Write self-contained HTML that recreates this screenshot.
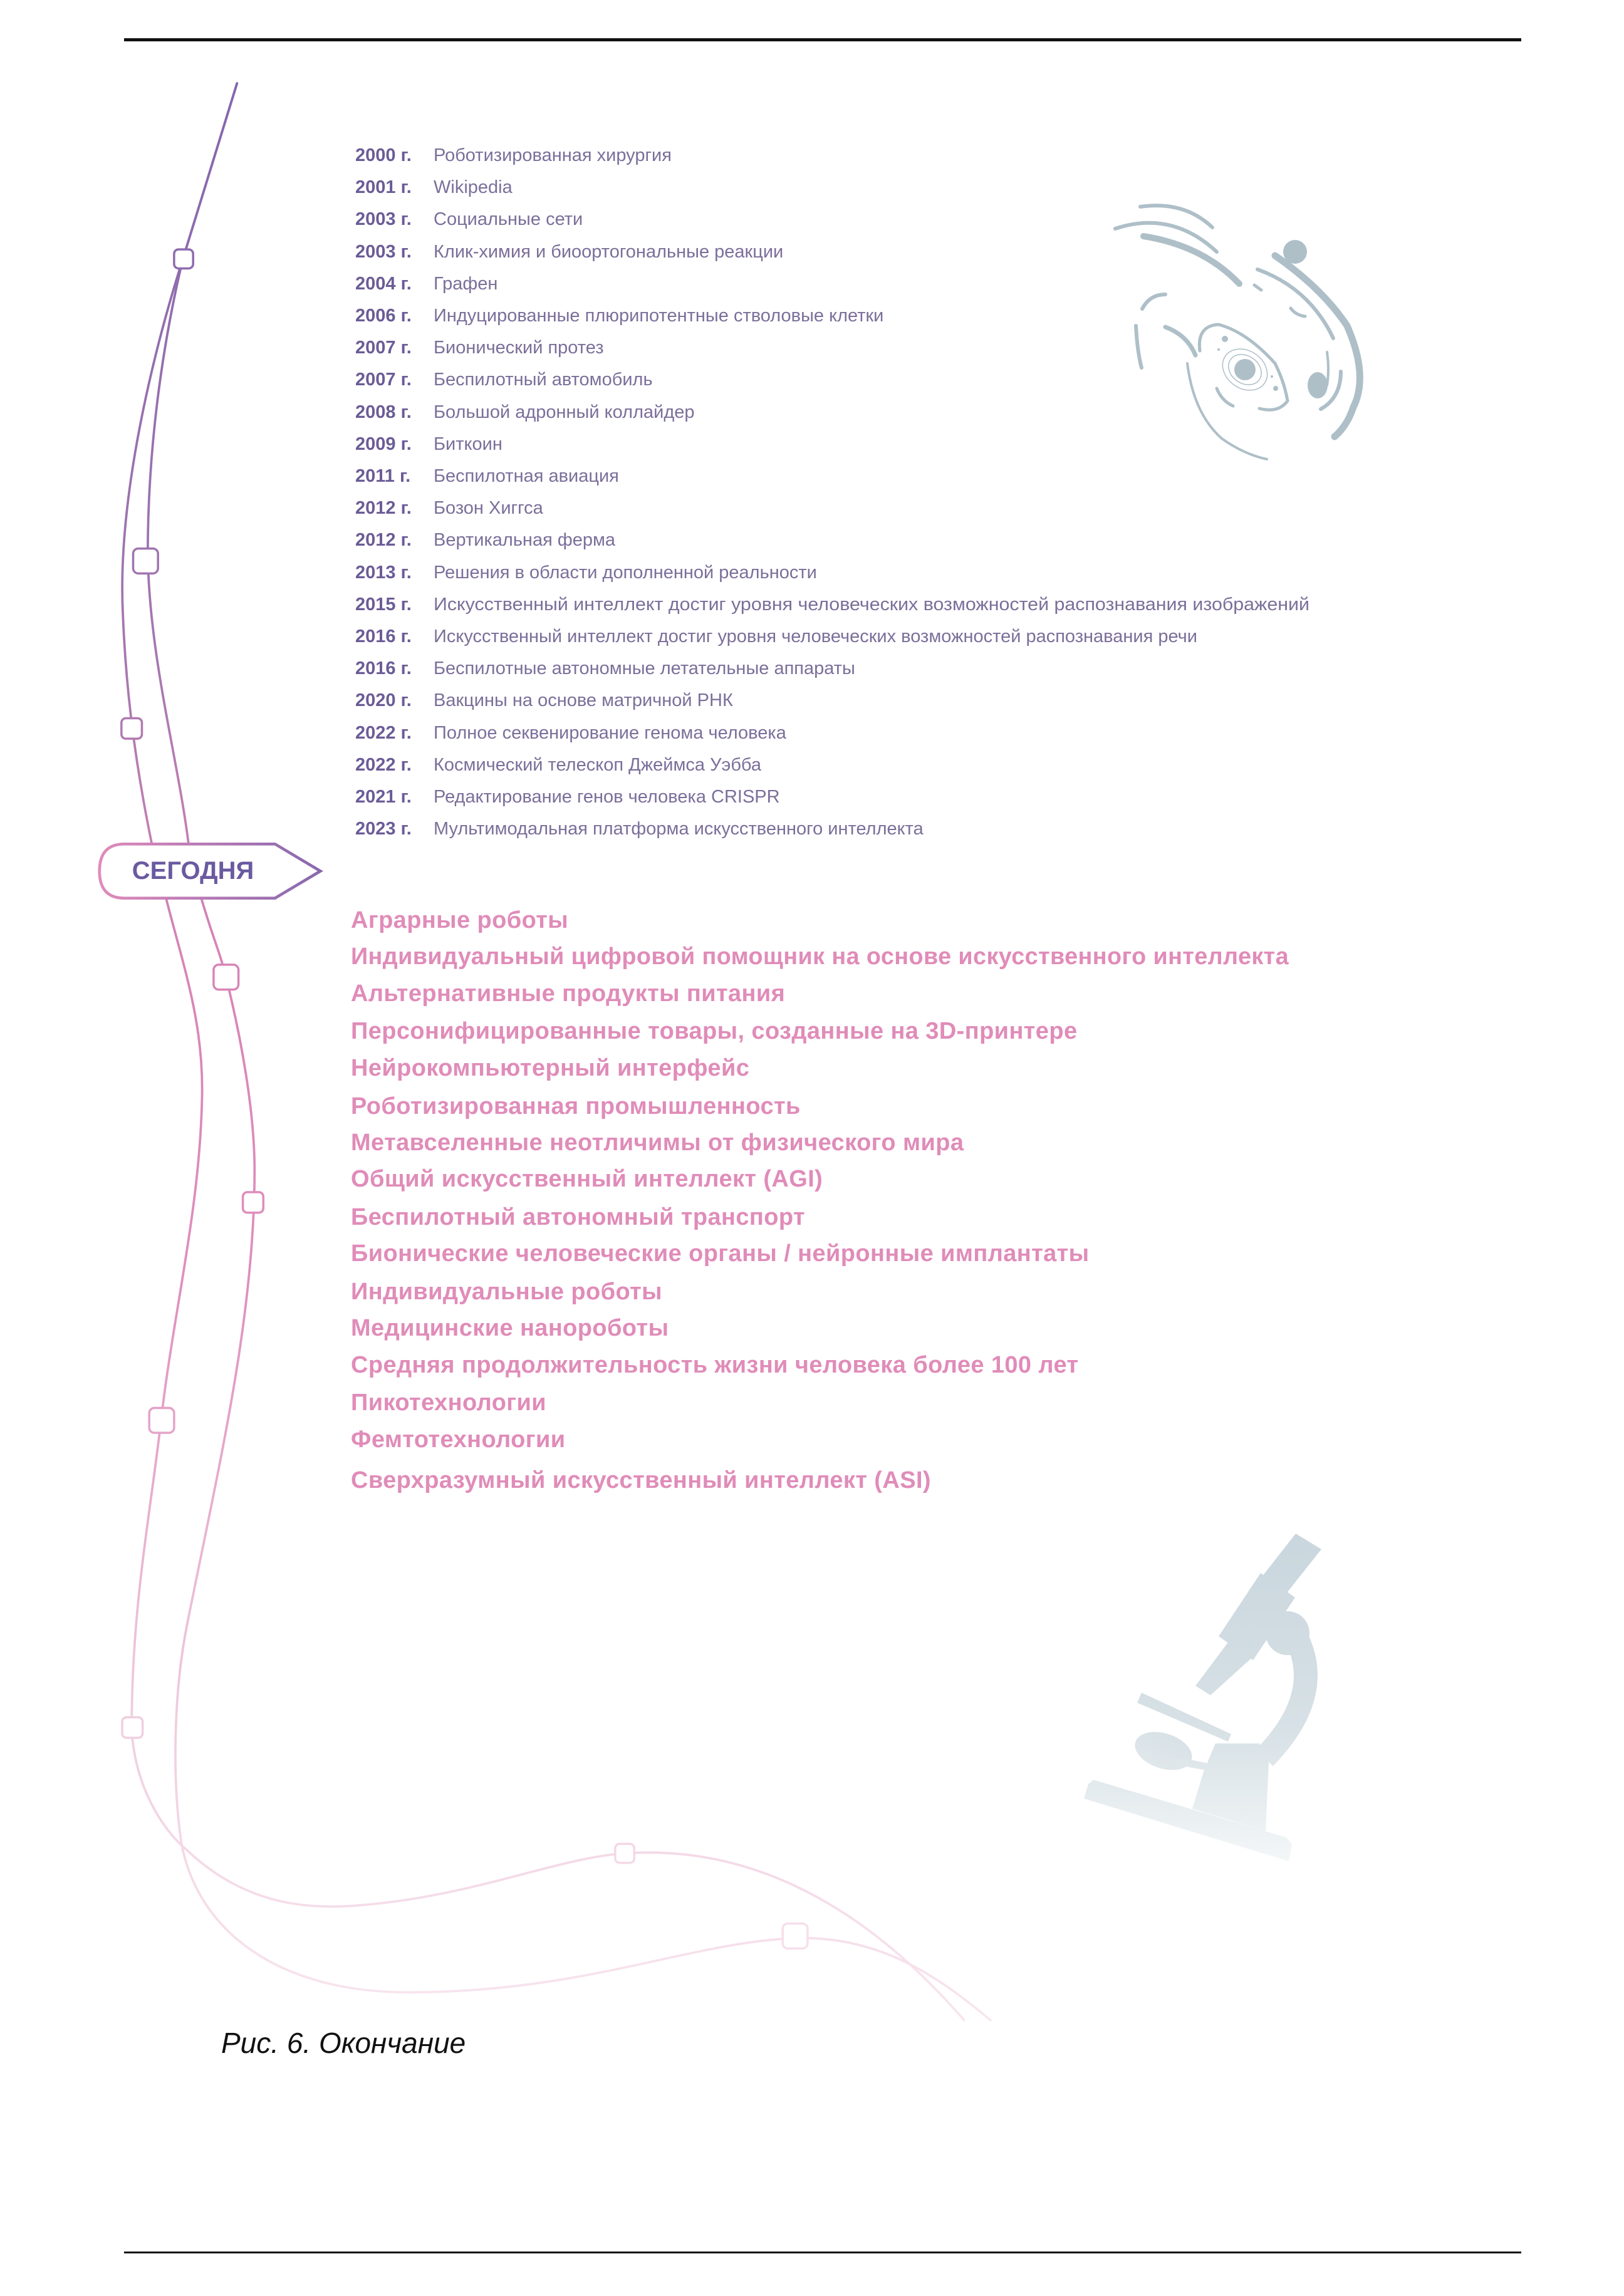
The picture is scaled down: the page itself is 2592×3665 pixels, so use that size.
<!DOCTYPE html>
<html><head><meta charset="utf-8"><style>
html,body{margin:0;padding:0;background:#fff}
svg{display:block}
</style></head><body>
<svg width="2592" height="3665" viewBox="0 0 2592 3665" xmlns="http://www.w3.org/2000/svg">
<defs>
<linearGradient id="lg" gradientUnits="userSpaceOnUse" x1="0" y1="57" x2="0" y2="1380">
<stop offset="0" stop-color="#8466ad"/>
<stop offset="0.3" stop-color="#a677b0"/>
<stop offset="0.45" stop-color="#d884b6"/>
<stop offset="0.62" stop-color="#e08fbd"/>
<stop offset="0.85" stop-color="#f0cfe0"/>
<stop offset="1" stop-color="#f8e6ef"/>
</linearGradient>
<linearGradient id="hg" gradientUnits="userSpaceOnUse" x1="68" y1="0" x2="220" y2="0">
<stop offset="0" stop-color="#e08bbb"/>
<stop offset="1" stop-color="#8768ad"/>
</linearGradient>
<linearGradient id="mg" gradientUnits="userSpaceOnUse" x1="0" y1="2440" x2="0" y2="2975">
<stop offset="0" stop-color="#c9d6dd"/>
<stop offset="0.6" stop-color="#d7e1e6"/>
<stop offset="1" stop-color="#f4f7f8"/>
</linearGradient>
</defs>

<rect x="198" y="61" width="2230" height="5" fill="#111"/>
<rect x="198" y="3594" width="2230" height="3" fill="#111"/>

<g transform="scale(2.335)" fill="none" stroke="url(#lg)" stroke-width="1.6" stroke-linecap="round">
<path d="M162,57 L125,177 C105,240 80,340 84,420 C86,470 92,520 104,578 C108,598 112,605 113,612 C125,660 140,700 138,754 C136,830 118,900 110,972 C102,1040 90,1100 90,1182 C92,1220 110,1250 128,1265 C165,1300 205,1305 239,1303 C320,1298 380,1270 427,1267 C500,1262 580,1290 659,1381"/>
<path d="M162,57 L125,177 C110,240 101,310 101,379 C102,450 122,520 129,578 C131,595 134,605 137,612 C145,640 150,650 154,666 C165,710 174,760 174,800 C174,900 150,1000 128,1110 C118,1160 118,1220 124,1260 C135,1320 190,1362 279,1362 C400,1362 470,1328 543,1325 C600,1323 640,1350 677,1381"/>
<g fill="#fff" stroke-width="1.5">
<rect x="119" y="170.5" width="13" height="13" rx="3"/>
<rect x="91" y="375" width="17" height="17" rx="3.5"/>
<rect x="83" y="491" width="14" height="14" rx="3"/>
<rect x="146" y="659.5" width="17" height="17" rx="3.5"/>
<rect x="166" y="815" width="14" height="14" rx="3"/>
<rect x="102" y="962.5" width="17" height="17" rx="3.5"/>
<rect x="83.5" y="1174" width="14" height="14" rx="3"/>
<rect x="420.5" y="1260.5" width="13" height="13" rx="3"/>
<rect x="535" y="1315" width="17" height="17" rx="3.5"/>
</g>
<path d="M85,577 H188 L219,595.5 L188,614 H85 Q68,614 68,595.5 Q68,577 85,577 Z" fill="#fff" stroke="url(#hg)" stroke-width="2"/>
</g>

<text x="308" y="1403" text-anchor="middle" font-family="Liberation Sans, sans-serif" font-weight="bold" font-size="40" fill="#6a5aa0">СЕГОДНЯ</text>

<g font-family="Liberation Sans, sans-serif" font-size="29" fill="#7b6f9a">
<g font-weight="bold" fill="#6b5c96">
<text x="567" y="257">2000 г.</text><text x="567" y="308">2001 г.</text><text x="567" y="359">2003 г.</text><text x="567" y="411">2003 г.</text><text x="567" y="462">2004 г.</text><text x="567" y="513">2006 г.</text><text x="567" y="564">2007 г.</text><text x="567" y="615">2007 г.</text><text x="567" y="667">2008 г.</text><text x="567" y="718">2009 г.</text><text x="567" y="769">2011 г.</text><text x="567" y="820">2012 г.</text><text x="567" y="871">2012 г.</text><text x="567" y="923">2013 г.</text><text x="567" y="974">2015 г.</text><text x="567" y="1025">2016 г.</text><text x="567" y="1076">2016 г.</text><text x="567" y="1127">2020 г.</text><text x="567" y="1179">2022 г.</text><text x="567" y="1230">2022 г.</text><text x="567" y="1281">2021 г.</text><text x="567" y="1332">2023 г.</text>
</g>
<text x="692" y="257">Роботизированная хирургия</text>
<text x="692" y="308">Wikipedia</text>
<text x="692" y="359">Социальные сети</text>
<text x="692" y="411">Клик-химия и биоортогональные реакции</text>
<text x="692" y="462">Графен</text>
<text x="692" y="513">Индуцированные плюрипотентные стволовые клетки</text>
<text x="692" y="564">Бионический протез</text>
<text x="692" y="615">Беспилотный автомобиль</text>
<text x="692" y="667">Большой адронный коллайдер</text>
<text x="692" y="718">Биткоин</text>
<text x="692" y="769">Беспилотная авиация</text>
<text x="692" y="820">Бозон Хиггса</text>
<text x="692" y="871">Вертикальная ферма</text>
<text x="692" y="923">Решения в области дополненной реальности</text>
<text x="692" y="974" textLength="1398" lengthAdjust="spacingAndGlyphs">Искусственный интеллект достиг уровня человеческих возможностей распознавания изображений</text>
<text x="692" y="1025">Искусственный интеллект достиг уровня человеческих возможностей распознавания речи</text>
<text x="692" y="1076">Беспилотные автономные летательные аппараты</text>
<text x="692" y="1127">Вакцины на основе матричной РНК</text>
<text x="692" y="1179">Полное секвенирование генома человека</text>
<text x="692" y="1230">Космический телескоп Джеймса Уэбба</text>
<text x="692" y="1281">Редактирование генов человека CRISPR</text>
<text x="692" y="1332">Мультимодальная платформа искусственного интеллекта</text>
</g>

<g font-family="Liberation Sans, sans-serif" font-weight="bold" font-size="38" fill="#e08cb9" letter-spacing="0.4">
<text x="560" y="1481">Аграрные роботы</text>
<text x="560" y="1539" textLength="1497" lengthAdjust="spacingAndGlyphs">Индивидуальный цифровой помощник на основе искусственного интеллекта</text>
<text x="560" y="1598">Альтернативные продукты питания</text>
<text x="560" y="1658">Персонифицированные товары, созданные на 3D-принтере</text>
<text x="560" y="1717">Нейрокомпьютерный интерфейс</text>
<text x="560" y="1778">Роботизированная промышленность</text>
<text x="560" y="1836">Метавселенные неотличимы от физического мира</text>
<text x="560" y="1894">Общий искусственный интеллект (AGI)</text>
<text x="560" y="1955">Беспилотный автономный транспорт</text>
<text x="560" y="2013">Бионические человеческие органы / нейронные имплантаты</text>
<text x="560" y="2074">Индивидуальные роботы</text>
<text x="560" y="2132">Медицинские нанороботы</text>
<text x="560" y="2191">Средняя продолжительность жизни человека более 100 лет</text>
<text x="560" y="2251">Пикотехнологии</text>
<text x="560" y="2310">Фемтотехнологии</text>
<text x="560" y="2375">Сверхразумный искусственный интеллект (ASI)</text>
</g>

<text x="353" y="3277" font-family="Liberation Sans, sans-serif" font-style="italic" font-size="46" fill="#111">Рис. 6. Окончание</text>

<!-- atom / galaxy icon -->
<g fill="none" stroke="#aebfc8" stroke-linecap="round">
<path d="M1820,330 Q1890,320 1935,363" stroke-width="6"/>
<path d="M1780,365 Q1870,335 1942,402" stroke-width="6"/>
<path d="M1825,377 Q1920,392 1978,453" stroke-width="10"/>
<path d="M2002,455 L2013,463" stroke-width="5"/>
<path d="M2035,408 Q2110,460 2150,520 Q2185,600 2160,650 Q2150,680 2130,697" stroke-width="11"/>
<path d="M2007,430 Q2090,460 2128,540" stroke-width="6"/>
<path d="M2060,492 Q2068,503 2083,505" stroke-width="5"/>
<path d="M1823,493 Q1835,470 1860,470" stroke-width="6"/>
<path d="M1813,520 Q1815,560 1822,587" stroke-width="6"/>
<path d="M1860,522 Q1895,535 1908,567" stroke-width="7"/>
<path d="M1895,580 Q1905,660 1950,700 Q1985,725 2022,733" stroke-width="4"/>
<path d="M1915,560 Q1910,520 1945,518 Q1990,530 2035,580 Q2050,610 2055,640 Q2040,660 2010,652" stroke-width="5"/>
<path d="M1942,620 Q1950,640 1968,648" stroke-width="5"/>
<ellipse cx="1987" cy="590" rx="38" ry="30" transform="rotate(35 1987 590)" stroke-width="1.5"/>
<ellipse cx="1987" cy="590" rx="28" ry="22" transform="rotate(35 1987 590)" stroke-width="1.5"/>
<path d="M2118,562 Q2122,590 2118,615" stroke-width="4"/>
<path d="M2140,593 Q2140,635 2108,653" stroke-width="6"/>
</g>
<g fill="#aebfc8">
<circle cx="2067" cy="402" r="19"/>
<circle cx="1987" cy="590" r="17"/>
<ellipse cx="2103" cy="615" rx="16" ry="21"/>
<circle cx="1955" cy="541" r="5"/>
<circle cx="2036" cy="620" r="4"/>
<circle cx="1945" cy="558" r="2"/>
<circle cx="2030" cy="601" r="2"/>
</g>

<!-- microscope -->
<g fill="url(#mg)" stroke="none">
<polygon points="2068,2448 2109,2473 2040,2560 2000,2535"/>
<polygon points="2012,2511 2067,2550 2000,2650 1945,2612"/>
<polygon points="1965,2615 2005,2640 1932,2706 1908,2691"/>
<circle cx="2055" cy="2607" r="35"/>
<path d="M2072,2620 Q2112,2710 2018,2806" fill="none" stroke="url(#mg)" stroke-width="38"/>
<polygon points="1822,2702 1965,2768 1960,2780 1815,2718"/>
<ellipse cx="1857" cy="2795" rx="47" ry="28" transform="rotate(18 1857 2795)"/>
<polygon points="1880,2805 1930,2815 1925,2826 1878,2817"/>
<polygon points="1940,2783 2010,2783 2025,2814 2020,2923 1903,2887 1922,2825"/>
<polygon points="1745,2841 2053,2933 2062,2944 2057,2971 1730,2871 1737,2848"/>
</g>
</svg>
</body></html>
